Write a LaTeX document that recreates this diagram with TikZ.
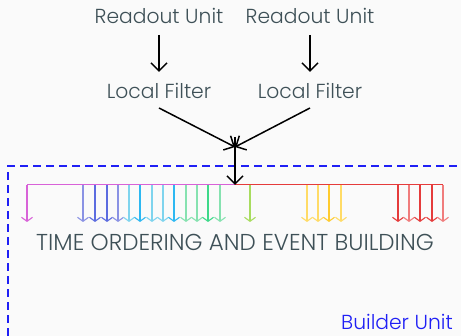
\documentclass[tikz,border=0pt]{standalone}
\usepackage{fontspec}
\setmainfont{Poppins}[UprightFont=* Light]
\usetikzlibrary{arrows.meta}
\definecolor{bgc}{HTML}{FAFAFA}
\definecolor{txt}{HTML}{3E5057}
\definecolor{bub}{HTML}{1F1FF5}
\definecolor{mag}{HTML}{D862D8}
\definecolor{blA}{HTML}{8A92E4}
\definecolor{blB}{HTML}{5C6CE0}
\definecolor{cyA}{HTML}{7FD4EE}
\definecolor{cyB}{HTML}{2DB8F2}
\definecolor{grA}{HTML}{86E2B0}
\definecolor{grB}{HTML}{3ED98A}
\definecolor{lim}{HTML}{A8DC5E}
\definecolor{ylA}{HTML}{FFDB66}
\definecolor{ylB}{HTML}{FFCB2E}
\definecolor{rdA}{HTML}{E53B3B}
\definecolor{rdB}{HTML}{F07C7C}
\begin{document}
\begin{tikzpicture}[x=1pt,y=-1pt]
            \tikzstyle{every node}=[inner sep=0pt, font=\fontsize{20.3}{23}\selectfont, text=txt]
            \tikzstyle{flow}=[black, line width=1.5pt, -{Straight Barb[length=8pt,width=16pt]}]
            \tikzstyle{tick}=[line width=1.1pt, -{Straight Barb[length=4pt,width=11pt]}]

            \fill[bgc] (0,0) rectangle (461,336);
            \useasboundingbox (0,0) rectangle (461,336);

            % builder unit frame
            \draw[bub, line width=1.2pt, dash pattern=on 8pt off 5pt] (8,336) -- (8,166) -- (461,166);
            \node[text=bub, anchor=east] (bu) at (453,322) {Builder Unit};

            \node (ru1) at (159,16) {Readout Unit};
            \node (ru2) at (310,16) {Readout Unit};
            \node (lf1) at (159,91) {Local Filter};
            \node (lf2) at (310,91) {Local Filter};
            \coordinate (a1) at (159,35);
            \coordinate (b1) at (159,72);
            \coordinate (a2) at (310,35);
            \coordinate (b2) at (310,72);
            \coordinate (d1) at (159,108);
            \coordinate (d2) at (310,108);
            \coordinate (join) at (235,147);
            \coordinate (top) at (235,137);
            \coordinate (bus) at (235,185);
            \coordinate (busL) at (27,185);
            \coordinate (busR) at (443,185);

            \draw[flow] (a1) -- (b1);
            \draw[flow] (a2) -- (b2);
            \draw[flow] (d1) -- (join);
            \draw[flow] (d2) -- (join);

            % time slices
            \draw[mag, line width=1pt] (busL) -- (bus);
            \draw[rdA, line width=1pt] (bus) -- (busR);
            \foreach \x/\c [count=\i] in {27/mag, 83/blA, 95/blB, 107/blB, 118/blA,
                129/cyA, 140/cyB, 152/cyA, 163/cyA, 174/cyB,
                186/grA, 197/grA, 208/grB, 220/grA, 250/lim,
                307/ylA, 318/ylA, 329/ylB, 341/ylA,
                398/rdA, 409/rdB, 420/rdA, 432/rdA, 443/rdB} {
                \coordinate (s\i) at (\x,185);
                \coordinate (e\i) at (\x,222);
                \draw[tick, \c] (s\i) -- (e\i);
            }
            \draw[flow] (top) -- (bus);

            \node[font=\fontsize{23}{26}\selectfont] (tob) at (235,242) {TIME ORDERING AND EVENT BUILDING};
\end{tikzpicture}
\end{document}
